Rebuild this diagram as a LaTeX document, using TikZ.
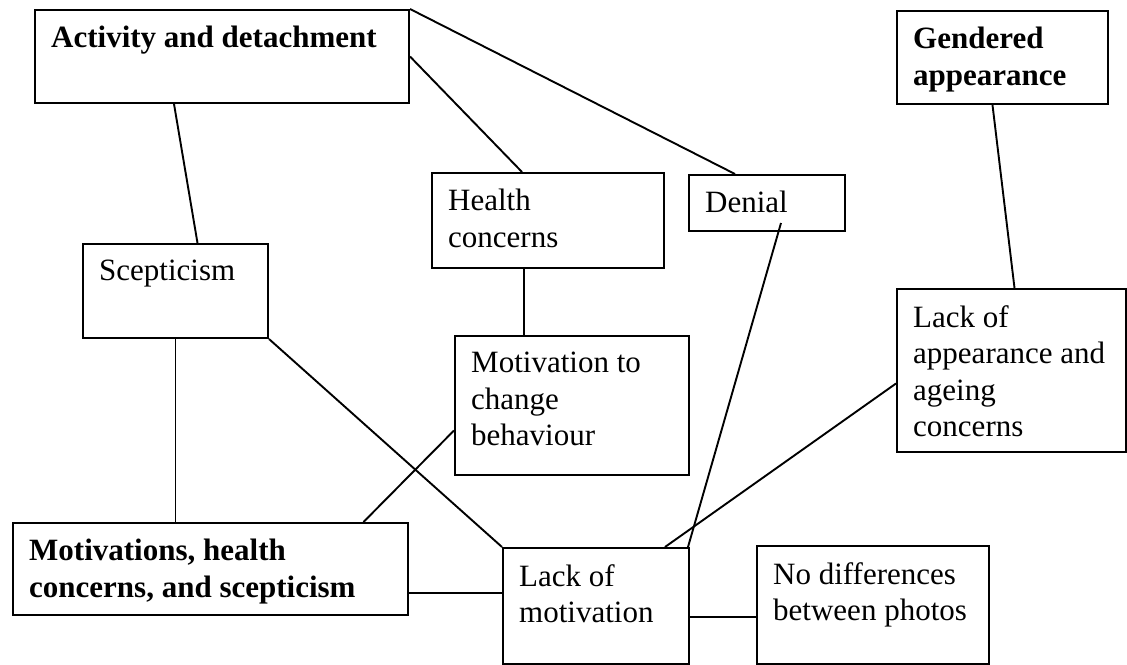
\documentclass[tikz,border=0pt]{standalone}
\usepackage{fontspec}
\setmainfont{Liberation Serif}
\usepackage{tikz}

\tikzset{
  theme/.style={draw, line width=2pt, inner sep=0pt, anchor=north west},
  words/.style={anchor=north west, align=left, inner sep=0pt, xshift=17pt, yshift=-17pt,
    font=\fontsize{31}{36.5}\selectfont},
  heavy/.style={words, font=\fontsize{31}{36.5}\selectfont\bfseries},
  link/.style={line width=1.9pt},
}

\begin{document}
\begin{tikzpicture}[x=1pt, y=-1pt]
        \useasboundingbox (0,0) rectangle (1127,664);

        % Top row
        \node[theme, minimum width=374pt, minimum height=93pt,
              label={[heavy]north west:Activity and detachment}] (act) at (34,9) {};
        \node[theme, minimum width=211pt, minimum height=93pt,
              label={[heavy]north west:Gendered\\appearance}] (gend) at (896,10) {};

        % Middle boxes
        \node[theme, minimum width=232pt, minimum height=95pt,
              label={[words]north west:Health\\concerns}] (health) at (431,172) {};
        \node[theme, minimum width=156pt, minimum height=56pt,
              label={[words]north west:Denial}] (denial) at (688,174) {};
        \node[theme, minimum width=185pt, minimum height=94pt,
              label={[words]north west:Scepticism}] (scep) at (82,243) {};
        \node[theme, minimum width=229pt, minimum height=163pt,
              label={[words]north west:Lack of\\appearance and\\ageing\\concerns}] (appear) at (896,288) {};
        \node[theme, minimum width=234pt, minimum height=139pt,
              label={[words]north west:Motivation to\\change\\behaviour}] (change) at (454,335) {};

        % Bottom row
        \node[theme, minimum width=395pt, minimum height=92pt,
              label={[heavy]north west:Motivations, health\\concerns, and scepticism}] (motiv) at (12,522) {};
        \node[theme, minimum width=186pt, minimum height=116pt,
              label={[words]north west:Lack of\\motivation}] (lack) at (502,547) {};
        \node[theme, minimum width=232pt, minimum height=118pt,
              label={[words]north west:No differences\\between photos}] (nodiff) at (756,545) {};

        % Links from the top row
        \draw[link] ([xshift=-48pt]act.south) -- ([xshift=22pt]scep.north);
        \draw[link] (act.east) -- ([xshift=-26pt]health.north);
        \draw[link] (act.north east) -- ([xshift=-32pt]denial.north);
        \draw[link] ([xshift=-10pt]gend.south) -- ([xshift=3pt]appear.north);

        % Links in the middle
        \draw[link] ([xshift=-24pt]health.south) -- ([xshift=-24pt]health.south |- change.north);
        \draw[link] ([xshift=14pt, yshift=9pt]denial.south) -- ([xshift=-2pt]lack.north east);
        \draw[link] (scep.south) -- (scep.south |- motiv.north);
        \draw[link] (scep.south east) -- (lack.north west);
        \draw[link] ([yshift=-25pt]change.west) -- ([xshift=153pt]motiv.north);
        \draw[link] ([yshift=-13pt]appear.west) -- ([xshift=-25pt]lack.north east);

        % Links in the bottom row
        \draw[link] ([yshift=-24pt]motiv.east) -- ([yshift=-24pt]motiv.east -| lack.west);
        \draw[link] ([yshift=-11pt]lack.east) -- ([yshift=-11pt]lack.east -| nodiff.west);
\end{tikzpicture}
\end{document}
